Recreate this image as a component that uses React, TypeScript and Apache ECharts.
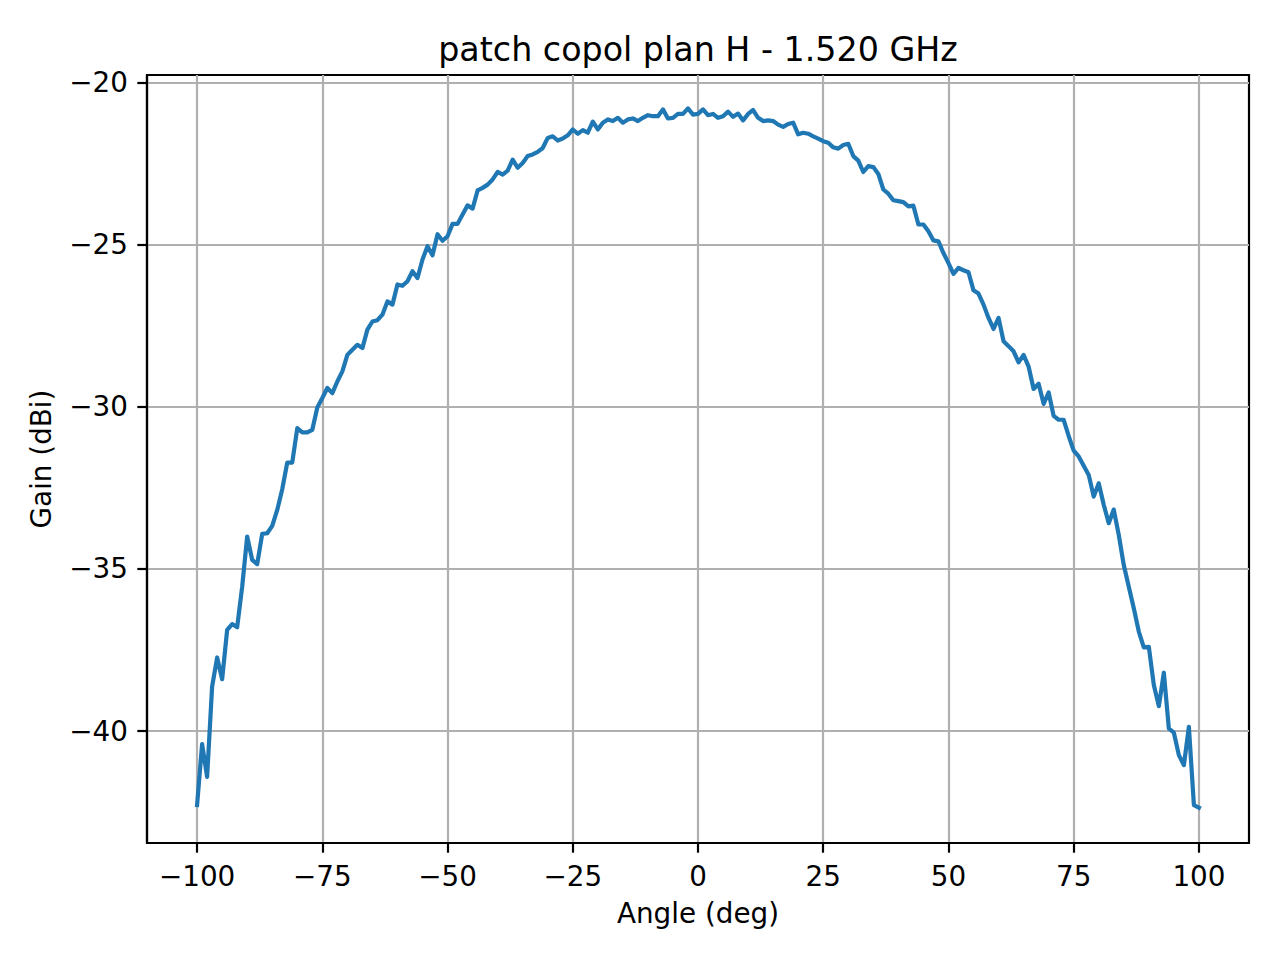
import { useEffect, useRef } from 'react'
import * as echarts from 'echarts'

const angles: number[] = []
for (let a = -100; a <= 100; a++) angles.push(a)

// gain, one value per degree from -100 to 100
const gain = [
  -42.28, -40.4, -41.41, -38.63, -37.73, -38.4, -36.88, -36.7, -36.8, -35.55,
  -34.0, -34.72, -34.85, -33.92, -33.9, -33.67, -33.18, -32.54, -31.72, -31.72,
  -30.66, -30.79, -30.79, -30.71, -30.02, -29.73, -29.42, -29.58, -29.22, -28.91,
  -28.4, -28.24, -28.09, -28.19, -27.62, -27.37, -27.33, -27.16, -26.75, -26.85,
  -26.23, -26.27, -26.13, -25.82, -26.03, -25.46, -25.05, -25.33, -24.68, -24.88,
  -24.74, -24.36, -24.36, -24.07, -23.79, -23.89, -23.33, -23.25, -23.15, -22.99,
  -22.76, -22.84, -22.72, -22.38, -22.63, -22.48, -22.27, -22.22, -22.14, -22.02,
  -21.71, -21.66, -21.79, -21.73, -21.63, -21.45, -21.58, -21.47, -21.55, -21.21,
  -21.45, -21.24, -21.14, -21.19, -21.09, -21.24, -21.14, -21.11, -21.19, -21.09,
  -21.01, -21.04, -21.04, -20.83, -21.11, -21.09, -20.97, -20.97, -20.8, -20.99,
  -20.97,
  -20.83, -21.01, -20.97, -21.09, -21.04, -20.9, -21.06, -20.96, -21.17, -20.97,
  -20.85, -21.09, -21.19, -21.17, -21.19, -21.3, -21.37, -21.28, -21.24, -21.6,
  -21.55, -21.58, -21.66, -21.73, -21.81, -21.86, -22.0, -22.04, -21.93, -21.89,
  -22.27, -22.41, -22.76, -22.58, -22.61, -22.82, -23.3, -23.43, -23.63, -23.66,
  -23.69, -23.82, -23.8, -24.38, -24.38, -24.59, -24.87, -24.9, -25.26, -25.57,
  -25.9, -25.72, -25.79, -25.85, -26.41, -26.51, -26.85, -27.26, -27.6, -27.26,
  -27.98, -28.13, -28.29, -28.63, -28.4, -28.76, -29.45, -29.29, -29.91, -29.56,
  -30.28, -30.4, -30.4, -30.9, -31.35, -31.53, -31.82, -32.1, -32.77, -32.36,
  -33.02, -33.59, -33.17, -33.95, -34.88, -35.55, -36.21, -36.93, -37.42, -37.4,
  -38.58, -39.23, -38.2, -39.92, -40.05, -40.74, -41.05, -39.87, -42.28, -42.36,
]

const xTicks = [-100, -75, -50, -25, 0, 25, 50, 75, 100]
const yTicks = [-40, -35, -30, -25, -20]

const FONT = 'DejaVu Sans'
const minus = (v: number) => String(v).replace('-', '\u2212')

export default function App() {
  const ref = useRef<HTMLDivElement | null>(null)

  useEffect(() => {
    if (!ref.current) return
    const chart = echarts.init(ref.current, undefined, { renderer: 'svg' })

    const axisCommon = {
      axisLine: { show: true, onZero: false, lineStyle: { color: '#000', width: 2.2 } },
      axisTick: { show: true, inside: false, length: 9.7, lineStyle: { color: '#000', width: 2.2 } },
      splitLine: { show: true, lineStyle: { color: '#b0b0b0', width: 2.2 } },
      nameTextStyle: { color: '#000', fontFamily: FONT, fontSize: 27.8 },
    }

    chart.setOption({
      animation: false,
      backgroundColor: '#fff',
      title: {
        text: 'patch copol plan H - 1.520 GHz',
        left: 693,
        textAlign: 'center',
        top: 28,
        textStyle: { color: '#000', fontFamily: FONT, fontSize: 33.3, fontWeight: 'normal' },
      },
      grid: {
        left: 147,
        right: 31,
        top: 75,
        bottom: 117,
        show: true,
        borderColor: '#000',
        borderWidth: 2.2,
        backgroundColor: '#fff',
      },
      xAxis: {
        type: 'value',
        min: -110,
        max: 110,
        name: 'Angle (deg)',
        nameLocation: 'middle',
        nameGap: 56,
        ...axisCommon,
        axisTick: { ...axisCommon.axisTick, customValues: xTicks },
        axisLabel: {
          customValues: xTicks,
          margin: 19,
          color: '#000',
          fontFamily: FONT,
          fontSize: 27.8,
          formatter: minus,
        },
      },
      yAxis: {
        type: 'value',
        min: -43.45,
        max: -19.77,
        name: 'Gain (dBi)',
        nameLocation: 'middle',
        nameGap: 92,
        ...axisCommon,
        axisTick: { ...axisCommon.axisTick, customValues: yTicks },
        axisLabel: {
          customValues: yTicks,
          margin: 19,
          color: '#000',
          fontFamily: FONT,
          fontSize: 27.8,
          formatter: minus,
        },
      },
      series: [
        {
          type: 'line',
          data: angles.map((a, i) => [a, gain[i]]),
          showSymbol: false,
          lineStyle: { color: '#1f77b4', width: 4.2, cap: 'square', join: 'round' },
          z: 3,
        },
      ],
    })

    return () => chart.dispose()
  }, [])

  return <div ref={ref} style={{ position: 'absolute', left: 0, top: 0, width: 1280, height: 960 }} />
}
